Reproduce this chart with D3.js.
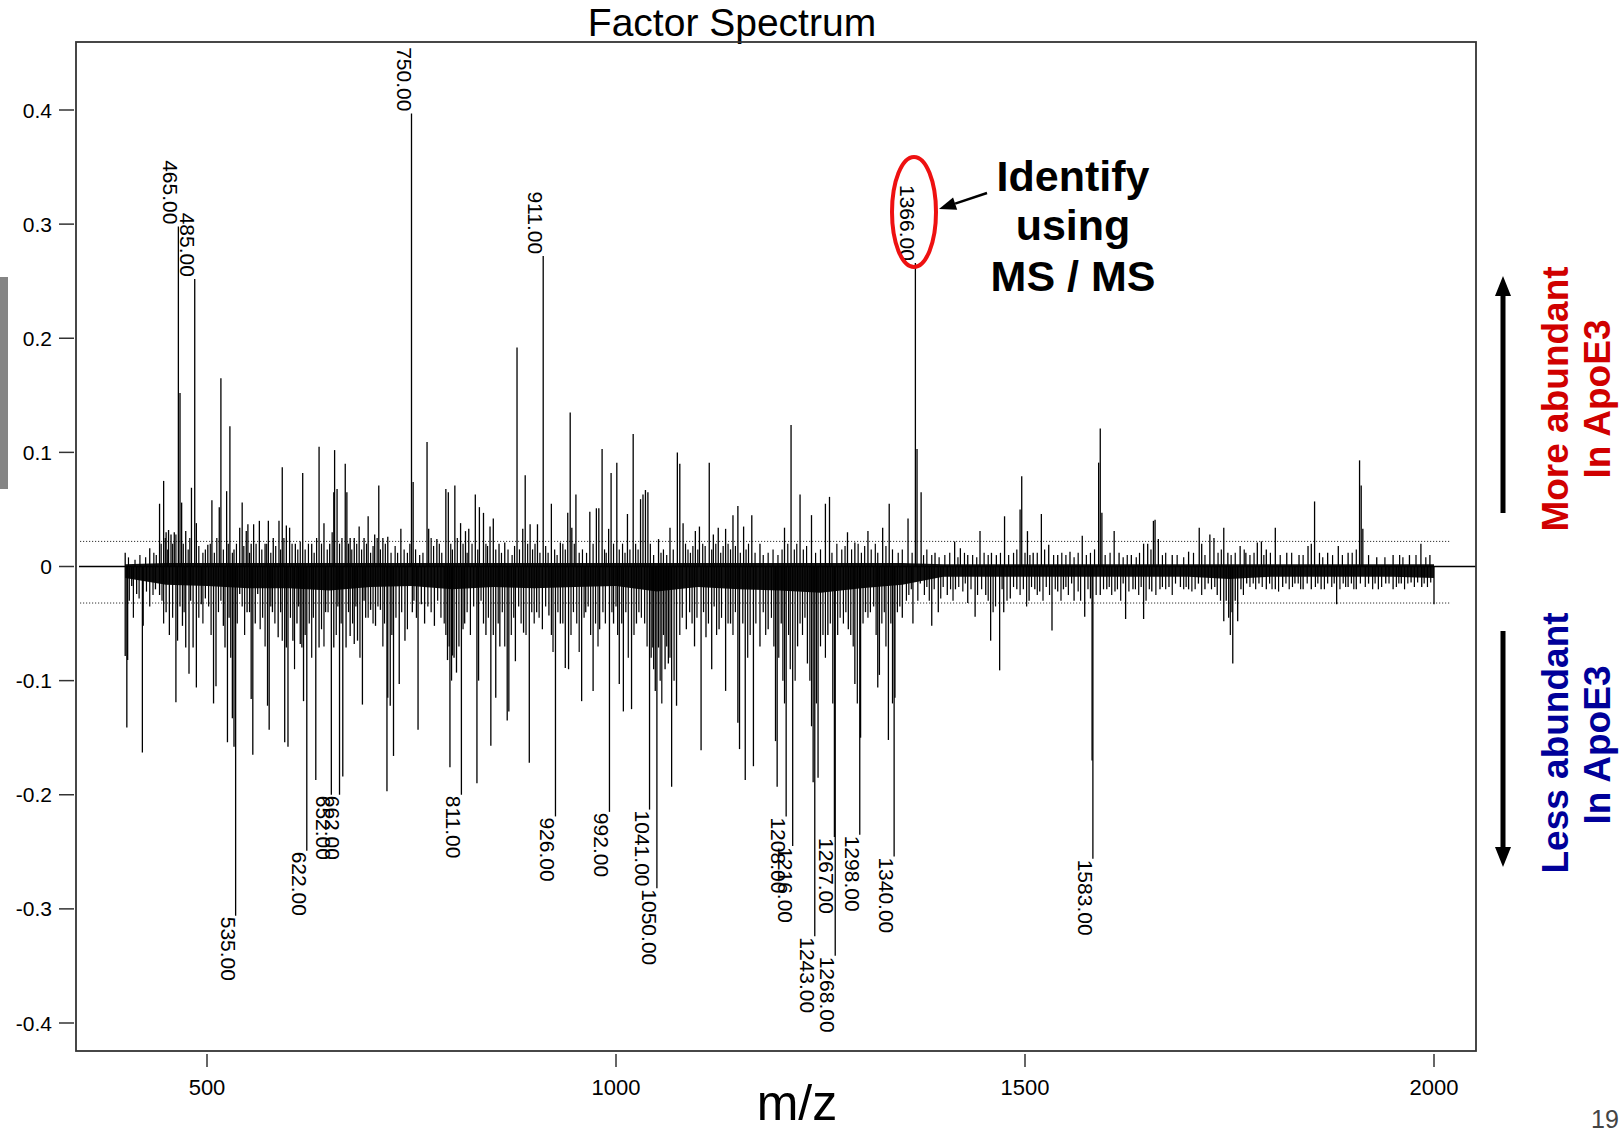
<!DOCTYPE html>
<html><head><meta charset="utf-8">
<script src="https://cdn.jsdelivr.net/npm/d3@7"></script>
<style>body{margin:0;background:#fff;overflow:hidden} svg{display:block}</style>
</head><body>
<svg id="c" width="1621" height="1132"></svg>
<script>
// ---- data (m/z, factor loading) ----
const posSpikes = [[400,0.012],[430,0.016],[442,0.055],[447,0.075],[450,0.03],[453,0.032],[456,0.028],[460,0.03],[465,0.298],[467,0.152],[469,0.056],[474,0.031],[481,0.069],[485,0.252],[487,0.038],[501,0.019],[506,0.058],[515,0.052],[517,0.165],[524,0.066],[528,0.123],[533,0.015],[540,0.034],[543,0.056],[548,0.031],[550,0.037],[554,0.02],[557,0.037],[564,0.04],[571,0.02],[575,0.04],[581,0.025],[588,0.04],[592,0.087],[597,0.036],[601,0.034],[608,0.02],[617,0.082],[628,0.02],[637,0.105],[643,0.038],[650,0.02],[655,0.065],[656,0.102],[659,0.068],[669,0.09],[671,0.065],[675,0.025],[680,0.025],[686,0.035],[692,0.025],[697,0.044],[705,0.028],[710,0.071],[715,0.025],[721,0.026],[737,0.033],[750,0.397],[752,0.074],[769,0.109],[771,0.033],[781,0.024],[792,0.068],[795,0.065],[803,0.071],[810,0.038],[816,0.031],[820,0.033],[828,0.063],[833,0.052],[838,0.047],[846,0.035],[850,0.042],[857,0.02],[864,0.021],[879,0.192],[886,0.033],[889,0.08],[895,0.037],[904,0.037],[911,0.272],[921,0.055],[932,0.021],[941,0.047],[944,0.135],[946,0.034],[951,0.063],[968,0.048],[976,0.051],[979,0.051],[983,0.103],[991,0.033],[994,0.082],[1001,0.091],[1014,0.046],[1021,0.116],[1030,0.059],[1033,0.063],[1036,0.067],[1039,0.065],[1052,0.024],[1066,0.034],[1075,0.1],[1078,0.09],[1082,0.038],[1097,0.031],[1102,0.035],[1114,0.091],[1119,0.028],[1125,0.034],[1134,0.033],[1143,0.045],[1149,0.053],[1156,0.035],[1166,0.045],[1176,0.02],[1206,0.034],[1214,0.124],[1225,0.063],[1239,0.045],[1256,0.055],[1261,0.061],[1283,0.03],[1292,0.021],[1308,0.031],[1326,0.034],[1334,0.055],[1357,0.042],[1366,0.266],[1368,0.103],[1373,0.065],[1390,0.012],[1414,0.022],[1421,0.016],[1430,0.01],[1445,0.031],[1459,0.012],[1465,0.01],[1475,0.044],[1494,0.05],[1496,0.079],[1503,0.031],[1510,0.012],[1520,0.046],[1529,0.019],[1540,0.01],[1555,0.013],[1570,0.027],[1590,0.091],[1592,0.121],[1594,0.047],[1609,0.031],[1615,0.012],[1630,0.01],[1645,0.02],[1650,0.02],[1657,0.04],[1659,0.041],[1663,0.024],[1680,0.01],[1700,0.013],[1713,0.034],[1716,0.02],[1726,0.028],[1731,0.025],[1743,0.034],[1748,0.012],[1763,0.018],[1770,0.012],[1784,0.021],[1789,0.022],[1795,0.015],[1806,0.034],[1820,0.012],[1835,0.01],[1846,0.018],[1850,0.02],[1854,0.057],[1870,0.012],[1883,0.018],[1895,0.012],[1909,0.093],[1911,0.071],[1913,0.033],[1930,0.008],[1950,0.01],[1970,0.01],[1984,0.02],[1995,0.01]];
const posMinor = [[404,0.008],[412,0.006],[418,0.01],[425,0.008],[435,0.012],[438,0.01],[444,0.02],[449,0.025],[452,0.015],[458,0.02],[462,0.028],[471,0.02],[477,0.015],[479,0.025],[490,0.018],[495,0.012],[498,0.015],[504,0.02],[509,0.012],[512,0.025],[520,0.015],[526,0.02],[531,0.012],[536,0.02],[545,0.018],[552,0.012],[560,0.02],[567,0.015],[573,0.02],[578,0.012],[584,0.018],[590,0.015],[594,0.025],[604,0.02],[611,0.015],[614,0.022],[620,0.015],[624,0.02],[631,0.012],[634,0.025],[640,0.02],[647,0.015],[653,0.03],[662,0.02],[665,0.025],[673,0.02],[677,0.015],[683,0.02],[689,0.015],[695,0.02],[700,0.012],[703,0.018],[708,0.025],[712,0.015],[718,0.02],[725,0.012],[730,0.018],[733,0.012],[741,0.015],[745,0.012],[748,0.02],[755,0.015],[760,0.01],[764,0.012],[774,0.025],[777,0.018],[784,0.02],[787,0.012],[798,0.02],[800,0.015],[806,0.025],[813,0.02],[818,0.012],[824,0.02],[831,0.015],[841,0.02],[843,0.018],[853,0.015],[860,0.012],[868,0.015],[873,0.01],[876,0.018],[882,0.015],[892,0.02],[898,0.015],[901,0.02],[907,0.012],[914,0.018],[917,0.012],[925,0.015],[928,0.01],[935,0.02],[938,0.015],[949,0.02],[955,0.012],[959,0.015],[964,0.012],[972,0.02],[986,0.015],[988,0.012],[997,0.02],[1004,0.015],[1008,0.02],[1011,0.012],[1017,0.015],[1024,0.02],[1027,0.015],[1042,0.02],[1046,0.01],[1055,0.012],[1058,0.015],[1062,0.01],[1070,0.015],[1085,0.02],[1088,0.015],[1091,0.012],[1094,0.018],[1100,0.015],[1106,0.02],[1109,0.018],[1117,0.015],[1122,0.02],[1128,0.012],[1131,0.018],[1137,0.02],[1140,0.015],[1146,0.018],[1152,0.012],[1159,0.015],[1162,0.02],[1170,0.012],[1180,0.01],[1186,0.012],[1192,0.015],[1198,0.01],[1203,0.015],[1210,0.02],[1218,0.015],[1221,0.02],[1229,0.015],[1233,0.018],[1244,0.012],[1250,0.015],[1264,0.012],[1270,0.02],[1276,0.015],[1280,0.018],[1288,0.015],[1296,0.02],[1300,0.012],[1304,0.018],[1312,0.015],[1317,0.02],[1320,0.012],[1330,0.018],[1338,0.015],[1345,0.012],[1350,0.015],[1362,0.012],[1376,0.01],[1380,0.015],[1386,0.01],[1395,0.008],[1402,0.01],[1408,0.012],[1418,0.008],[1426,0.012],[1436,0.01],[1441,0.008],[1450,0.012],[1455,0.01],[1470,0.012],[1480,0.01],[1486,0.012],[1490,0.015],[1500,0.012],[1506,0.01],[1515,0.012],[1524,0.015],[1535,0.01],[1545,0.012],[1550,0.01],[1560,0.008],[1565,0.012],[1575,0.01],[1580,0.012],[1585,0.015],[1598,0.01],[1604,0.012],[1620,0.008],[1625,0.01],[1636,0.008],[1640,0.012],[1654,0.015],[1668,0.01],[1672,0.012],[1686,0.01],[1694,0.008],[1706,0.012],[1720,0.01],[1736,0.012],[1740,0.015],[1752,0.01],[1757,0.012],[1768,0.015],[1775,0.01],[1780,0.012],[1792,0.01],[1800,0.012],[1812,0.01],[1826,0.012],[1840,0.01],[1860,0.012],[1864,0.008],[1876,0.01],[1888,0.01],[1900,0.012],[1905,0.015],[1920,0.01],[1940,0.008],[1958,0.01],[1962,0.008],[1978,0.01],[1990,0.008]];
const negSpikes = [[400,-0.0785],[402,-0.141],[403,-0.082],[408,-0.017],[414,-0.024],[421,-0.163],[422,-0.052],[437,-0.02],[442,-0.025],[450,-0.04],[454,-0.06],[462,-0.119],[464,-0.065],[470,-0.052],[474,-0.071],[478,-0.094],[483,-0.071],[487,-0.106],[493,-0.033],[498,-0.028],[508,-0.12],[511,-0.105],[520,-0.052],[522,-0.071],[525,-0.154],[531,-0.133],[533,-0.158],[535,-0.306],[540,-0.024],[549,-0.04],[554,-0.116],[556,-0.165],[559,-0.05],[562,-0.024],[574,-0.122],[576,-0.143],[580,-0.04],[587,-0.062],[595,-0.154],[597,-0.071],[599,-0.158],[605,-0.065],[610,-0.05],[614,-0.068],[616,-0.071],[618,-0.118],[622,-0.249],[633,-0.187],[637,-0.071],[645,-0.04],[652,-0.2],[655,-0.071],[662,-0.2],[666,-0.184],[670,-0.071],[675,-0.061],[680,-0.068],[684,-0.065],[690,-0.121],[694,-0.045],[700,-0.038],[706,-0.052],[712,-0.038],[720,-0.197],[721,-0.115],[724,-0.122],[728,-0.166],[735,-0.103],[742,-0.065],[751,-0.04],[758,-0.143],[762,-0.033],[766,-0.05],[778,-0.052],[794,-0.082],[797,-0.176],[800,-0.078],[802,-0.08],[805,-0.093],[811,-0.2],[815,-0.05],[830,-0.19],[832,-0.1],[841,-0.06],[847,-0.157],[853,-0.115],[858,-0.07],[867,-0.135],[869,-0.127],[877,-0.083],[887,-0.058],[894,-0.172],[903,-0.04],[910,-0.055],[918,-0.043],[926,-0.219],[932,-0.05],[938,-0.089],[942,-0.09],[958,-0.118],[963,-0.04],[972,-0.109],[980,-0.055],[992,-0.215],[997,-0.05],[1004,-0.103],[1009,-0.127],[1019,-0.125],[1025,-0.05],[1041,-0.213],[1045,-0.071],[1048,-0.109],[1050,-0.282],[1052,-0.071],[1060,-0.09],[1064,-0.085],[1068,-0.193],[1074,-0.122],[1086,-0.055],[1096,-0.07],[1104,-0.161],[1110,-0.062],[1117,-0.09],[1126,-0.055],[1134,-0.109],[1140,-0.05],[1149,-0.137],[1151,-0.16],[1158,-0.187],[1168,-0.175],[1176,-0.07],[1186,-0.055],[1195,-0.153],[1197,-0.193],[1202,-0.05],[1208,-0.219],[1216,-0.245],[1222,-0.07],[1234,-0.085],[1241,-0.189],[1243,-0.324],[1247,-0.185],[1259,-0.06],[1267,-0.237],[1268,-0.341],[1284,-0.055],[1292,-0.103],[1298,-0.235],[1299,-0.15],[1305,-0.04],[1320,-0.106],[1322,-0.095],[1333,-0.152],[1340,-0.254],[1341,-0.115],[1350,-0.045],[1363,-0.05],[1386,-0.052],[1394,-0.04],[1405,-0.025],[1415,-0.02],[1430,-0.032],[1439,-0.044],[1452,-0.025],[1458,-0.065],[1469,-0.091],[1474,-0.04],[1482,-0.028],[1490,-0.02],[1505,-0.03],[1512,-0.02],[1518,-0.022],[1533,-0.056],[1540,-0.022],[1547,-0.02],[1560,-0.03],[1573,-0.044],[1582,-0.17],[1583,-0.256],[1592,-0.025],[1600,-0.02],[1610,-0.022],[1623,-0.046],[1632,-0.02],[1645,-0.046],[1655,-0.022],[1665,-0.02],[1676,-0.018],[1690,-0.018],[1700,-0.02],[1712,-0.015],[1720,-0.02],[1735,-0.025],[1743,-0.048],[1746,-0.03],[1749,-0.045],[1754,-0.085],[1757,-0.03],[1760,-0.048],[1764,-0.02],[1771,-0.015],[1786,-0.015],[1795,-0.02],[1806,-0.02],[1815,-0.018],[1830,-0.015],[1840,-0.02],[1850,-0.02],[1862,-0.02],[1881,-0.033],[1895,-0.018],[1905,-0.02],[1920,-0.015],[1932,-0.02],[1941,-0.015],[1950,-0.02],[1960,-0.015],[1972,-0.014],[1985,-0.018],[2000,-0.033]];
const negMinor = [[405,-0.03],[410,-0.045],[417,-0.028],[426,-0.022],[430,-0.035],[434,-0.025],[445,-0.03],[447,-0.05],[458,-0.045],[467,-0.035],[472,-0.04],[480,-0.03],[490,-0.045],[495,-0.05],[502,-0.035],[505,-0.06],[514,-0.04],[517,-0.03],[527,-0.045],[529,-0.08],[537,-0.05],[543,-0.035],[546,-0.06],[552,-0.04],[565,-0.055],[568,-0.045],[571,-0.07],[578,-0.035],[583,-0.05],[590,-0.04],[592,-0.065],[602,-0.045],[607,-0.09],[612,-0.035],[620,-0.06],[625,-0.05],[628,-0.08],[630,-0.045],[640,-0.055],[643,-0.07],[648,-0.04],[658,-0.06],[660,-0.035],[664,-0.05],[673,-0.04],[678,-0.05],[682,-0.035],[687,-0.08],[692,-0.03],[697,-0.045],[703,-0.05],[709,-0.035],[715,-0.07],[717,-0.05],[726,-0.06],[731,-0.045],[738,-0.04],[745,-0.055],[753,-0.03],[756,-0.045],[770,-0.035],[774,-0.04],[782,-0.03],[786,-0.045],[790,-0.05],[792,-0.06],[796,-0.07],[799,-0.1],[808,-0.07],[813,-0.055],[818,-0.04],[822,-0.06],[826,-0.035],[835,-0.03],[838,-0.05],[844,-0.045],[850,-0.06],[856,-0.05],[861,-0.04],[864,-0.07],[872,-0.06],[875,-0.045],[881,-0.035],[884,-0.05],[890,-0.06],[897,-0.04],[900,-0.05],[906,-0.045],[914,-0.035],[921,-0.06],[923,-0.075],[929,-0.04],[935,-0.05],[945,-0.06],[948,-0.04],[952,-0.05],[955,-0.075],[961,-0.045],[966,-0.035],[969,-0.06],[975,-0.05],[978,-0.07],[984,-0.04],[987,-0.05],[995,-0.04],[1000,-0.035],[1002,-0.06],[1007,-0.05],[1012,-0.04],[1015,-0.08],[1022,-0.06],[1028,-0.04],[1031,-0.045],[1035,-0.05],[1038,-0.07],[1043,-0.08],[1046,-0.09],[1054,-0.1],[1056,-0.12],[1058,-0.06],[1062,-0.07],[1066,-0.08],[1071,-0.1],[1078,-0.06],[1081,-0.045],[1090,-0.04],[1093,-0.05],[1099,-0.045],[1107,-0.04],[1113,-0.05],[1120,-0.035],[1123,-0.06],[1129,-0.045],[1137,-0.05],[1143,-0.06],[1146,-0.04],[1155,-0.05],[1161,-0.08],[1164,-0.06],[1171,-0.05],[1180,-0.04],[1183,-0.06],[1190,-0.045],[1193,-0.07],[1199,-0.08],[1204,-0.1],[1206,-0.12],[1211,-0.06],[1213,-0.09],[1219,-0.1],[1225,-0.05],[1228,-0.06],[1231,-0.045],[1237,-0.1],[1239,-0.14],[1245,-0.12],[1250,-0.07],[1253,-0.06],[1256,-0.08],[1262,-0.05],[1265,-0.12],[1271,-0.06],[1274,-0.045],[1278,-0.05],[1281,-0.04],[1287,-0.06],[1290,-0.07],[1295,-0.12],[1302,-0.05],[1308,-0.045],[1311,-0.04],[1315,-0.035],[1318,-0.06],[1325,-0.05],[1328,-0.04],[1330,-0.07],[1336,-0.05],[1338,-0.12],[1344,-0.04],[1347,-0.035],[1355,-0.03],[1358,-0.025],[1361,-0.02],[1369,-0.03],[1372,-0.015],[1377,-0.025],[1380,-0.018],[1383,-0.03],[1389,-0.02],[1397,-0.028],[1400,-0.018],[1409,-0.02],[1412,-0.03],[1419,-0.018],[1424,-0.022],[1427,-0.015],[1434,-0.02],[1442,-0.025],[1447,-0.02],[1455,-0.03],[1461,-0.04],[1464,-0.035],[1472,-0.02],[1478,-0.03],[1486,-0.018],[1494,-0.025],[1498,-0.02],[1502,-0.035],[1508,-0.018],[1515,-0.025],[1522,-0.03],[1526,-0.018],[1530,-0.025],[1537,-0.02],[1544,-0.03],[1550,-0.018],[1553,-0.025],[1557,-0.015],[1565,-0.022],[1568,-0.03],[1577,-0.02],[1580,-0.028],[1587,-0.025],[1596,-0.02],[1603,-0.018],[1606,-0.025],[1613,-0.02],[1617,-0.03],[1620,-0.015],[1627,-0.022],[1635,-0.02],[1639,-0.025],[1642,-0.018],[1648,-0.03],[1652,-0.02],[1660,-0.025],[1668,-0.018],[1672,-0.02],[1680,-0.025],[1684,-0.015],[1694,-0.02],[1697,-0.018],[1704,-0.022],[1708,-0.02],[1716,-0.025],[1724,-0.015],[1728,-0.02],[1732,-0.018],[1739,-0.03],[1751,-0.06],[1753,-0.04],[1767,-0.025],[1775,-0.018],[1779,-0.015],[1782,-0.02],[1790,-0.018],[1799,-0.015],[1802,-0.02],[1810,-0.022],[1819,-0.015],[1823,-0.02],[1827,-0.018],[1834,-0.015],[1837,-0.02],[1845,-0.015],[1855,-0.018],[1858,-0.015],[1866,-0.02],[1870,-0.015],[1875,-0.018],[1878,-0.015],[1885,-0.02],[1889,-0.015],[1892,-0.018],[1899,-0.015],[1902,-0.02],[1910,-0.015],[1916,-0.018],[1925,-0.02],[1928,-0.015],[1936,-0.018],[1945,-0.015],[1954,-0.018],[1957,-0.015],[1964,-0.02],[1968,-0.015],[1976,-0.018],[1980,-0.014],[1988,-0.015],[1992,-0.018],[1996,-0.014]];
// dense baseline band (envelope of the solid black noise band)
const bandMz     = [400,450,500,550,600,650,700,750,800,850,900,950,1000,1050,1100,1150,1200,1250,1300,1350,1400,1450,1500,1550,1600,1650,1700,1750,1800,1850,1900,1950,2000];
const bandTop    = [0.002,0.003,0.003,0.003,0.003,0.003,0.003,0.003,0.003,0.003,0.003,0.003,0.003,0.003,0.003,0.003,0.003,0.003,0.003,0.003,0.002,0.002,0.002,0.002,0.002,0.002,0.002,0.002,0.002,0.002,0.002,0.002,0.002];
const bandBottom = [-0.01,-0.016,-0.017,-0.019,-0.019,-0.021,-0.018,-0.017,-0.02,-0.018,-0.019,-0.018,-0.017,-0.022,-0.018,-0.02,-0.021,-0.023,-0.019,-0.016,-0.009,-0.009,-0.009,-0.009,-0.009,-0.009,-0.009,-0.011,-0.009,-0.009,-0.009,-0.009,-0.01];
const labeledPos = [465,485,750,911,1366];
const labeledNeg = [535,622,652,662,811,926,992,1041,1050,1208,1216,1243,1267,1268,1298,1340,1583];
const thresholds = [0.022,-0.032];
const xTicks = [500,1000,1500,2000];
const yTicks = [-0.4,-0.3,-0.2,-0.1,0,0.1,0.2,0.3,0.4];
const yTickLabels = ["-0.4","-0.3","-0.2","-0.1","0","0.1","0.2","0.3","0.4"];

// ---- drawing ----
const FONT = "'Liberation Sans', Arial, Helvetica, sans-serif";
const svg = d3.select("#c");
const box = {l:76, r:1476, t:42, b:1051};
const x = d3.scaleLinear().domain([500,2000]).range([207,1434]);
const y = d3.scaleLinear().domain([-0.4,0.4]).range([1023,110]);

svg.append("rect").attr("x",0).attr("y",277).attr("width",8).attr("height",212).attr("fill","#858585");

svg.append("text").attr("x",732).attr("y",36).attr("text-anchor","middle")
  .attr("font-family",FONT).attr("font-size",39).attr("fill","#000").text("Factor Spectrum");

const plot = svg.append("g");
const band = bandMz.map((m,i)=>({mz:m, top:bandTop[i], bot:bandBottom[i]}));
plot.append("path").datum(band)
  .attr("d", d3.area().x(d=>x(d.mz)).y0(d=>y(d.bot)).y1(d=>y(d.top)))
  .attr("fill","#111");

plot.selectAll("line.thr").data(thresholds).join("line").attr("class","thr")
  .attr("x1",80).attr("x2",x(2019)).attr("y1",d=>y(d)).attr("y2",d=>y(d))
  .attr("stroke","#333").attr("stroke-width",1).attr("stroke-dasharray","1.2,1.8");

plot.append("line").attr("x1",79).attr("x2",box.r).attr("y1",y(0)).attr("y2",y(0))
  .attr("stroke","#000").attr("stroke-width",1.3);

const minor = posMinor.concat(negMinor);
plot.selectAll("line.mi").data(minor).join("line").attr("class","mi")
  .attr("x1",d=>x(d[0])).attr("x2",d=>x(d[0]))
  .attr("y1",y(0)).attr("y2",d=>y(d[1]))
  .attr("stroke","#000").attr("stroke-width",1.2);

const spikes = posSpikes.concat(negSpikes);
plot.selectAll("line.sp").data(spikes).join("line").attr("class","sp")
  .attr("x1",d=>x(d[0])).attr("x2",d=>x(d[0]))
  .attr("y1",y(0)).attr("y2",d=>y(d[1]))
  .attr("stroke","#000").attr("stroke-width",1.3);

function addLabels(list, source, pos){
  list.forEach(m=>{
    const v = source.find(d=>d[0]===m)[1];
    plot.append("text")
      .attr("transform",`translate(${x(m)},${y(v) + (pos?-2:1)}) rotate(90)`)
      .attr("y",15).attr("text-anchor", pos ? "end" : "start")
      .attr("font-family",FONT).attr("font-size",21).attr("fill","#000")
      .text(m.toFixed(2));
  });
}
addLabels(labeledPos, posSpikes, true);
addLabels(labeledNeg, negSpikes, false);

svg.append("rect").attr("x",box.l).attr("y",box.t).attr("width",box.r-box.l).attr("height",box.b-box.t)
  .attr("fill","none").attr("stroke","#333").attr("stroke-width",1.8);

const xa = svg.append("g");
xa.selectAll("line").data(xTicks).join("line")
  .attr("x1",d=>x(d)).attr("x2",d=>x(d)).attr("y1",box.b+3).attr("y2",box.b+16)
  .attr("stroke","#333").attr("stroke-width",1.5);
xa.selectAll("text").data(xTicks).join("text")
  .attr("x",d=>x(d)).attr("y",1095).attr("text-anchor","middle")
  .attr("font-family",FONT).attr("font-size",22).attr("fill","#000").text(d=>d);
const ya = svg.append("g");
ya.selectAll("line").data(yTicks).join("line")
  .attr("x1",59).attr("x2",74).attr("y1",d=>y(d)).attr("y2",d=>y(d))
  .attr("stroke","#333").attr("stroke-width",1.5);
ya.selectAll("text").data(yTicks).join("text")
  .attr("x",52).attr("y",d=>y(d)).attr("dy","0.36em").attr("text-anchor","end")
  .attr("font-family",FONT).attr("font-size",21).attr("fill","#000").text((d,i)=>yTickLabels[i]);

svg.append("text").attr("x",797).attr("y",1120).attr("text-anchor","middle")
  .attr("font-family",FONT).attr("font-size",50).attr("fill","#000").text("m/z");

svg.append("text").attr("x",1591).attr("y",1128)
  .attr("font-family",FONT).attr("font-size",25).attr("fill","#444").text("19");

svg.append("ellipse").attr("cx",914).attr("cy",212).attr("rx",22).attr("ry",55)
  .attr("fill","none").attr("stroke","#ee1111").attr("stroke-width",4);
function arrow(x1,y1,x2,y2,w,hl,hw){
  const a = Math.atan2(y2-y1,x2-x1);
  const bx = x2 - hl*Math.cos(a), by = y2 - hl*Math.sin(a);
  svg.append("line").attr("x1",x1).attr("y1",y1).attr("x2",bx).attr("y2",by)
    .attr("stroke","#000").attr("stroke-width",w);
  const px = -Math.sin(a)*hw/2, py = Math.cos(a)*hw/2;
  svg.append("path").attr("d",`M${x2},${y2}L${bx+px},${by+py}L${bx-px},${by-py}Z`).attr("fill","#000");
}
arrow(987,193,939,209,2.5,17,13);
const ann = ["Identify","using","MS / MS"];
const annY = [191,240,291];
ann.forEach((t,i)=>svg.append("text").attr("x",1073).attr("y",annY[i]).attr("text-anchor","middle")
  .attr("font-family",FONT).attr("font-weight","bold").attr("font-size",43).attr("fill","#000").text(t));

arrow(1503,513,1503,276,5,20,16);
arrow(1503,631,1503,867,5,20,16);
const side = [
  {t:"More abundant", x:1568, y:399, c:"#d00000"},
  {t:"In ApoE3", x:1610, y:399, c:"#d00000"},
  {t:"Less abundant", x:1568, y:743, c:"#000099"},
  {t:"In ApoE3", x:1610, y:745, c:"#000099"}];
side.forEach(s=>svg.append("text").attr("transform",`translate(${s.x},${s.y}) rotate(-90)`)
  .attr("text-anchor","middle").attr("font-family",FONT).attr("font-weight","bold")
  .attr("font-size",37).attr("fill",s.c).text(s.t));
</script>
</body></html>
